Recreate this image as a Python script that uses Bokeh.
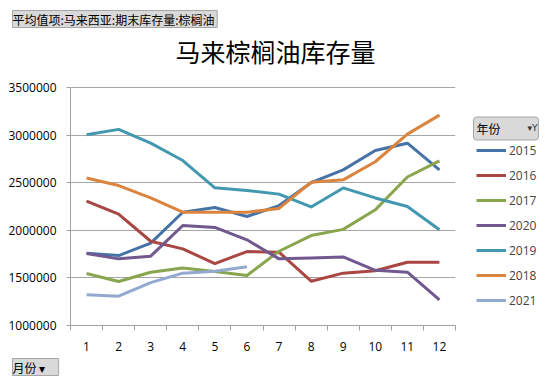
from bokeh.plotting import figure
from bokeh.layouts import row
from bokeh.models import Range1d, FixedTicker, Legend, LegendItem, Title, Label, BasicTickFormatter
from bokeh.embed import file_html
from bokeh.resources import INLINE

months = [1, 2, 3, 4, 5, 6, 7, 8, 9, 10, 11, 12]
month_labels = [str(m) for m in months]
series_names = ["2015", "2016", "2017", "2020", "2019", "2018", "2021"]
s2015 = [1760000, 1735000, 1865000, 2190000, 2240000, 2145000, 2260000, 2500000, 2635000, 2838000, 2915000, 2635000]
s2016 = [2306000, 2170000, 1885000, 1805000, 1650000, 1777000, 1770000, 1465000, 1550000, 1575000, 1665000, 1665000]
s2017 = [1546000, 1462000, 1560000, 1605000, 1567000, 1525000, 1780000, 1945000, 2010000, 2215000, 2560000, 2730000]
s2020 = [1756000, 1700000, 1728000, 2050000, 2030000, 1900000, 1700000, 1710000, 1720000, 1580000, 1560000, 1270000]
s2019 = [3003000, 3060000, 2915000, 2733000, 2446000, 2418000, 2380000, 2245000, 2445000, 2340000, 2250000, 2005000]
s2018 = [2550000, 2470000, 2340000, 2190000, 2190000, 2190000, 2230000, 2505000, 2530000, 2720000, 3010000, 3210000]
s2021 = [1322000, 1308000, 1450000, 1550000, 1570000, 1616000]
series_values = [s2015, s2016, s2017, s2020, s2019, s2018, s2021]
colors = ["#4572A7", "#AA4643", "#89A54E", "#71588F", "#4198AF", "#DB843D", "#93A9CF"]
y_ticks = [1000000, 1500000, 2000000, 2500000, 3000000, 3500000]

cjk = "Noto Sans CJK SC"
tick_font = "Open Sans"
box_fill = "#D9D9D9"
box_line = "#A6A6A6"

# layout (pixels): frame top at TOP, value axis occupies AXIS_PX pixels above the frame bottom
TOP = 32
AXIS_TOP = 87
AXIS_PX = 238
y_lo, y_hi = y_ticks[0], y_ticks[-1]
y_end = y_hi + (AXIS_TOP - TOP) * (y_hi - y_lo) / AXIS_PX

# ---------- main chart ----------
p = figure(width=460, height=387, output_backend="svg", toolbar_location=None,
           x_range=Range1d(0.5, 12.5), y_range=Range1d(y_lo, y_end),
           min_border_left=70, min_border_right=5, min_border_top=TOP, min_border_bottom=62,
           title=None)
p.outline_line_color = None

top_box = Title(text="平均值项:马来西亚:期末库存量:棕榈油 ", align="left", offset=-58,
                text_font=cjk, text_font_size="12px", text_font_style="normal", text_color="#000000",
                background_fill_color=box_fill, border_line_color=box_line, standoff=10)
p.add_layout(top_box, "above")

p.add_layout(Label(text="马来棕榈油库存量", x=205, y=275, x_units="screen", y_units="screen",
                   text_align="center", text_baseline="middle", text_font=cjk,
                   text_font_size="25px", text_color="#000000"))

bottom_box = Title(text="月份      ▾", align="left", offset=-58,
                   text_font=cjk, text_font_size="12px", text_font_style="normal", text_color="#000000",
                   background_fill_color=box_fill, border_line_color=box_line, standoff=6)
p.add_layout(bottom_box, "below")

p.xaxis.ticker = FixedTicker(ticks=months, minor_ticks=[m + 0.5 for m in [0] + months])
p.xaxis.major_label_overrides = {m: l for m, l in zip(months, month_labels)}
p.xaxis.major_tick_out = 0
p.xaxis.major_tick_in = 0
p.xaxis.minor_tick_out = 5
p.xaxis.minor_tick_in = 0
p.xaxis.minor_tick_line_color = "#A0A0A0"
p.xaxis.axis_line_color = "#A0A0A0"
p.xaxis.major_label_standoff = 11
p.yaxis.ticker = FixedTicker(ticks=y_ticks)
p.yaxis.bounds = (y_lo, y_hi)
p.yaxis.formatter = BasicTickFormatter(use_scientific=False)
p.yaxis.major_tick_out = 4
p.yaxis.major_tick_in = 0
p.yaxis.minor_tick_out = 0
p.yaxis.minor_tick_in = 0
p.yaxis.major_tick_line_color = "#A0A0A0"
p.yaxis.axis_line_color = "#A0A0A0"
p.yaxis.major_label_standoff = 10
for ax in (p.xaxis, p.yaxis):
    ax.major_label_text_font = tick_font
    ax.major_label_text_font_size = "12px"
    ax.major_label_text_color = "#000000"
p.xgrid.grid_line_color = None
p.ygrid.grid_line_color = "#A6A6A6"
p.ygrid.ticker = FixedTicker(ticks=y_ticks)

for vals, c in zip(series_values, colors):
    p.line(months[:len(vals)], vals, line_color=c, line_width=3, line_join="round")

# ---------- legend panel (frame aligned with the main chart's frame) ----------
q = figure(width=90, height=387, output_backend="svg", toolbar_location=None,
           x_range=Range1d(0, 1), y_range=Range1d(0, 1),
           min_border_left=0, min_border_right=0, min_border_top=0, min_border_bottom=0,
           title=None)
q.axis.visible = False
q.grid.grid_line_color = None
q.outline_line_color = None

items = []
for name, vals, c in zip(series_names, series_values, colors):
    # series drawn against the 0..1 range stay outside this panel; they only feed the legend swatches
    r = q.line(months[:len(vals)], vals, line_color=c, line_width=3)
    items.append(LegendItem(label=name, renderers=[r]))

leg = Legend(items=items, location=(16, 15), orientation="vertical",
             glyph_width=30, glyph_height=20, label_height=20, spacing=5,
             padding=0, margin=0, label_standoff=3,
             label_text_font=tick_font, label_text_font_size="12px",
             background_fill_alpha=0, border_line_color=None)
q.add_layout(leg, "center")

q.add_layout(Label(text="年份             ", x=13, y=197, x_units="screen", y_units="screen",
                   text_baseline="middle", text_font=cjk, text_font_size="12px",
                   text_color="#000000", background_fill_color=box_fill,
                   border_line_color=box_line, padding=3, border_radius=3))
q.add_layout(Label(text="▾Y", x=72, y=198, x_units="screen", y_units="screen",
                   text_baseline="middle", text_align="center", text_font="DejaVu Sans",
                   text_font_size="9px", text_color="#303030"))

open("out.html", "w").write(file_html(row(p, q), INLINE))
